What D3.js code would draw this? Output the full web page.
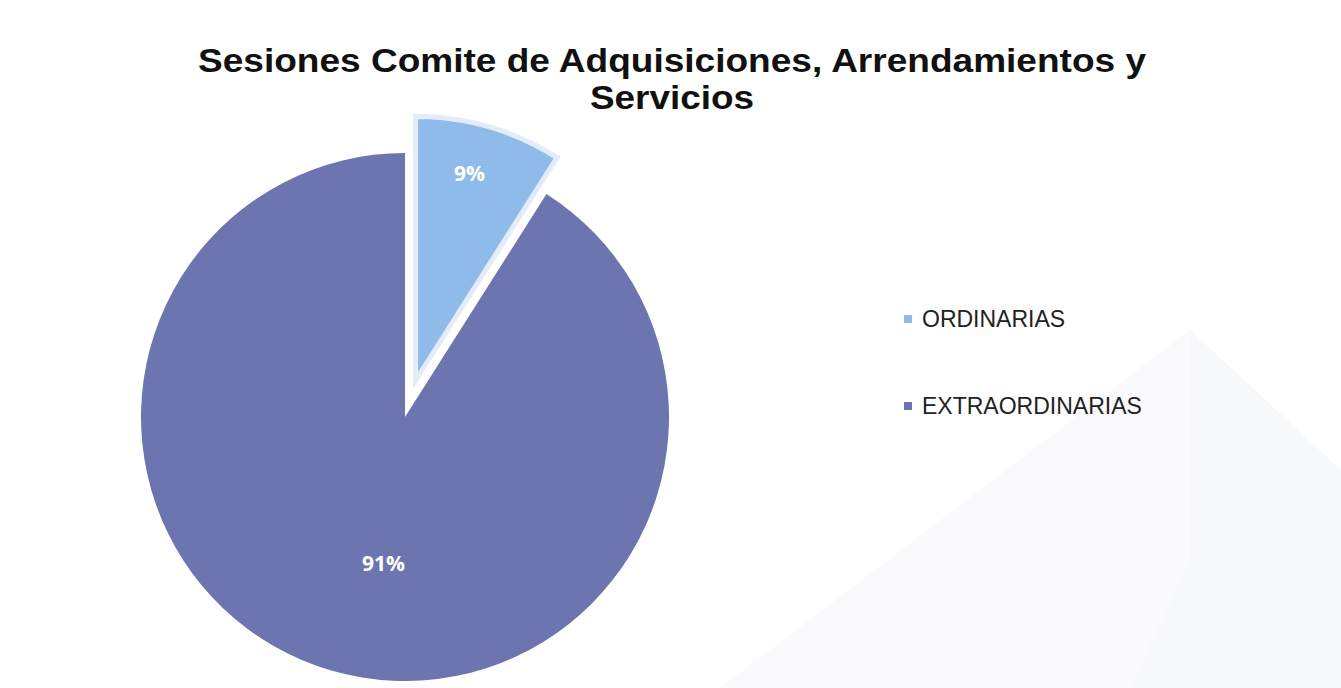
<!DOCTYPE html>
<html>
<head>
<meta charset="utf-8">
<script src="https://cdn.jsdelivr.net/npm/d3@7"></script>
<style>
body{margin:0;background:#fff;}
svg{display:block;}
</style>
</head>
<body>
<script>
// datos
const categorias = ["ORDINARIAS", "EXTRAORDINARIAS"];
const valores = [9, 91];
const etiquetas = ["9%", "91%"];
const colores = ["#8fbbea", "#6c75b0"];

const width = 1341, height = 688;
const cx = 405, cy = 417, radio = 264;
const explode = [38, 0];
// posicion de etiquetas: fraccion del angulo y del radio
const labelAng = [0.45, 0.476];
const labelFrac = [0.81, 0.56];

const svg = d3.select("body").append("svg")
  .attr("width", width)
  .attr("height", height);

// marca de agua tenue del fondo
svg.append("path")
  .attr("d", "M1190,330 L1341,470 L1341,688 L720,688 Z")
  .attr("fill", "#fafafc");
svg.append("path")
  .attr("d", "M1190,330 L1341,470 L1341,688 L1130,688 L1190,560 Z")
  .attr("fill", "#f7f8fa");

// titulo
const titulo = svg.append("g")
  .attr("font-family", "Liberation Sans, Arial, sans-serif")
  .attr("font-weight", "bold")
  .attr("font-size", 34)
  .attr("fill", "#111")
  .attr("text-anchor", "middle");
titulo.append("text").attr("x", 672).attr("y", 72)
  .attr("textLength", 948).attr("lengthAdjust", "spacingAndGlyphs")
  .text("Sesiones Comite de Adquisiciones, Arrendamientos y");
titulo.append("text").attr("x", 672).attr("y", 109)
  .attr("textLength", 164).attr("lengthAdjust", "spacingAndGlyphs")
  .text("Servicios");

const pie = d3.pie().sort(null).value(d => d)(valores);
const arc = d3.arc().innerRadius(0).outerRadius(radio);

const g = svg.append("g").attr("transform", `translate(${cx},${cy})`);

const slices = g.selectAll("g.slice")
  .data(pie)
  .enter()
  .append("g")
  .attr("class", "slice")
  .attr("transform", (d, i) => {
    const a = (d.startAngle + d.endAngle) / 2;
    return `translate(${Math.sin(a) * explode[i]},${-Math.cos(a) * explode[i]})`;
  });

slices.append("path")
  .attr("d", arc)
  .attr("fill", (d, i) => colores[i])
  .attr("stroke", (d, i) => i === 0 ? "#e4ecf8" : "none")
  .attr("stroke-width", 5)
  .attr("stroke-linejoin", "miter");

slices.append("text")
  .attr("transform", (d, i) => {
    const a = d.startAngle + (d.endAngle - d.startAngle) * labelAng[i];
    const r = radio * labelFrac[i];
    return `translate(${Math.sin(a) * r},${-Math.cos(a) * r})`;
  })
  .attr("text-anchor", "middle")
  .attr("dy", "0.35em")
  .attr("font-family", "Open Sans, Liberation Sans, sans-serif")
  .attr("font-weight", "bold")
  .attr("font-size", 21)
  .attr("fill", "#fff")
  .text((d, i) => etiquetas[i]);

// leyenda
const leyenda = svg.append("g").attr("transform", "translate(904,0)");
const ly = d3.scalePoint().domain(categorias).range([319, 406]);
leyenda.selectAll("rect")
  .data(categorias)
  .enter()
  .append("rect")
  .attr("x", 0)
  .attr("y", d => ly(d) - 4)
  .attr("width", 8)
  .attr("height", 8)
  .attr("fill", (d, i) => colores[i]);
leyenda.selectAll("text")
  .data(categorias)
  .enter()
  .append("text")
  .attr("x", 18)
  .attr("y", d => ly(d))
  .attr("dy", "0.36em")
  .attr("font-family", "Liberation Sans, Arial, sans-serif")
  .attr("font-size", 23)
  .attr("fill", "#222")
  .text(d => d);
</script>
</body>
</html>
